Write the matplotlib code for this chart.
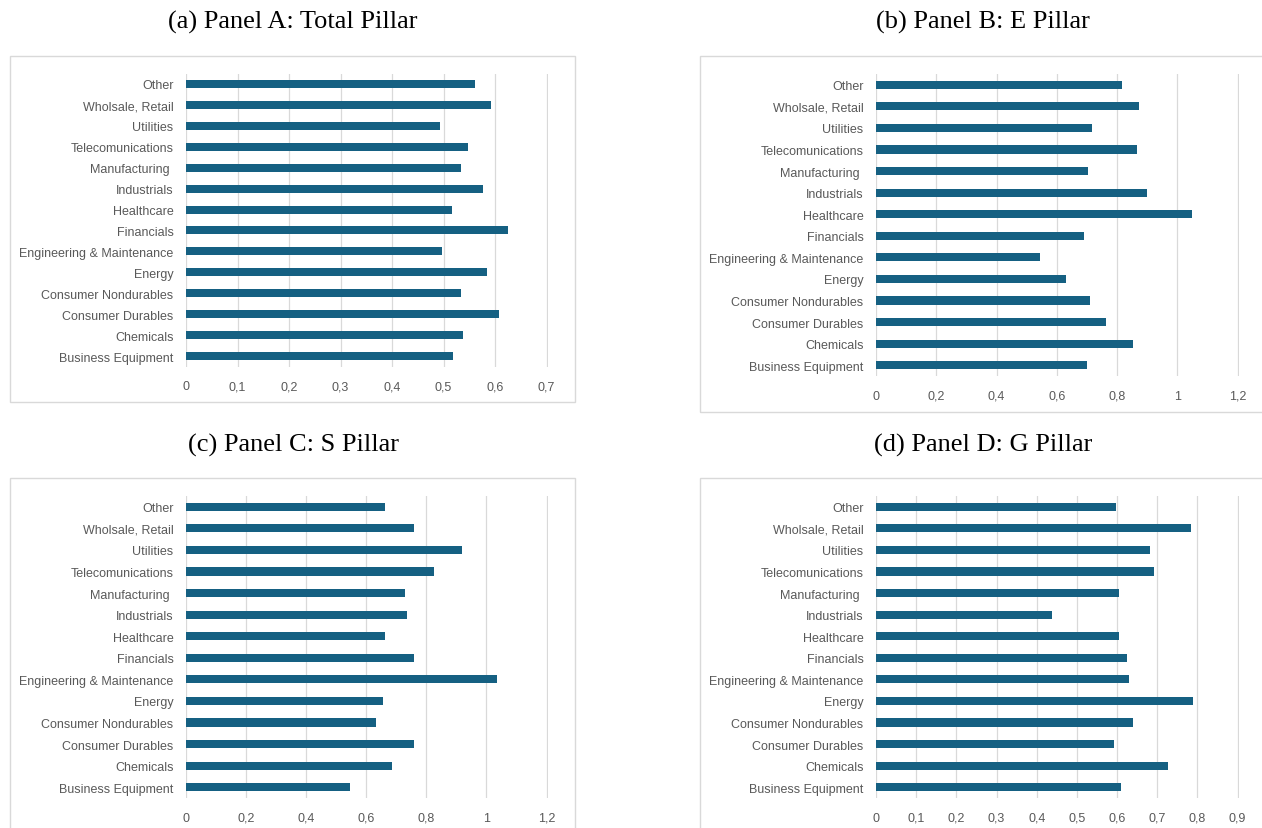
"""
ESG pillar scores by industry, four horizontal bar panels.
"""

import matplotlib.pyplot as plt
from matplotlib.patches import Rectangle
from matplotlib.ticker import FuncFormatter

industries = [
    "Business Equipment",
    "Chemicals",
    "Consumer Durables",
    "Consumer Nondurables",
    "Energy",
    "Engineering & Maintenance",
    "Financials",
    "Healthcare",
    "Industrials",
    "Manufacturing ",
    "Telecomunications",
    "Utilities",
    "Wholsale, Retail",
    "Other",
]

total_pillar = [0.518, 0.538, 0.608, 0.533, 0.585, 0.497, 0.625,
                0.517, 0.576, 0.534, 0.548, 0.494, 0.593, 0.562]
e_pillar = [0.701, 0.854, 0.764, 0.710, 0.631, 0.545, 0.692,
            1.048, 0.898, 0.705, 0.866, 0.716, 0.874, 0.818]
s_pillar = [0.546, 0.687, 0.759, 0.634, 0.654, 1.035, 0.759,
            0.662, 0.736, 0.729, 0.824, 0.919, 0.758, 0.661]
g_pillar = [0.611, 0.728, 0.592, 0.640, 0.788, 0.630, 0.625,
            0.604, 0.437, 0.605, 0.692, 0.682, 0.784, 0.597]

titles = [
    "(a) Panel A: Total Pillar",
    "(b) Panel B: E Pillar",
    "(c) Panel C: S Pillar",
    "(d) Panel D: G Pillar",
]
x_max = [0.7, 1.2, 1.2, 0.9]
x_step = [0.1, 0.2, 0.2, 0.1]

W, H = 1262, 829
BAR_COLOR = "#156082"
GRID_COLOR = "#d9d9d9"
TEXT_COLOR = "#595959"

# pixel layout: plot area (x0, x1, y_top, y_bottom), frame box, title centre
panels = [
    dict(plot=(186, 548, 74.5, 367.5), box=(10, 57, 575, 403), title=(293, 22)),
    dict(plot=(876, 1239, 75, 377), box=(700, 57, 1275, 413), title=(983, 22)),
    dict(plot=(186, 548, 497, 799), box=(10, 479, 575, 845), title=(293, 445)),
    dict(plot=(876, 1239, 497, 799), box=(700, 479, 1275, 845), title=(983, 445)),
]


def fmt_comma(v, pos):
    s = ("%.1f" % v).rstrip("0").rstrip(".")
    return s.replace(".", ",")


fig = plt.figure(figsize=(W / 100, H / 100), dpi=100)
fig.patch.set_facecolor("white")

for data, title, xm, xs, lay in zip(
    [total_pillar, e_pillar, s_pillar, g_pillar], titles, x_max, x_step, panels
):
    # light frame around each chart
    bx0, by0, bx1, by1 = lay["box"]
    fig.patches.append(Rectangle((bx0 / W, 1 - by1 / H), (bx1 - bx0) / W,
                                 (by1 - by0) / H, transform=fig.transFigure,
                                 fill=False, edgecolor=GRID_COLOR, linewidth=1.0))
    tx, ty = lay["title"]
    fig.text(tx / W, 1 - ty / H, title, ha="center", va="center",
             fontsize=19, family="Liberation Serif", color="black")

    x0, x1, yt, yb = lay["plot"]
    ax = fig.add_axes([x0 / W, 1 - yb / H, (x1 - x0) / W, (yb - yt) / H])
    pos = range(len(industries))
    ax.barh(pos, data, height=0.38, color=BAR_COLOR, zorder=3)
    ax.set_ylim(-0.5, len(industries) - 0.5)
    ax.set_xlim(0, xm * 1.004)
    n = int(round(xm / xs))
    ax.set_xticks([i * xs for i in range(n + 1)])
    ax.xaxis.set_major_formatter(FuncFormatter(fmt_comma))
    ax.set_yticks(list(pos))
    ax.set_yticklabels(industries)
    ax.grid(axis="x", color=GRID_COLOR, linewidth=0.9, zorder=0)
    ax.set_axisbelow(True)
    for sp in ax.spines.values():
        sp.set_visible(False)
    ax.tick_params(axis="both", length=0, labelsize=9, labelcolor=TEXT_COLOR)
    ax.tick_params(axis="y", pad=9)
    ax.tick_params(axis="x", pad=10)
    for lbl in ax.get_xticklabels() + ax.get_yticklabels():
        lbl.set_family("Liberation Sans")

fig.savefig("out.png", dpi=100, facecolor="white")
